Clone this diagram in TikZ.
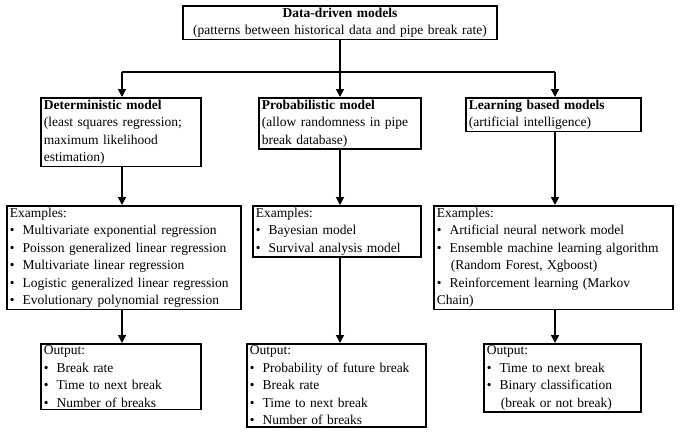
\documentclass[tikz,border=0pt]{standalone}
\usepackage{fontspec}
\setmainfont{Liberation Serif}
\usetikzlibrary{arrows.meta, positioning}
\tikzset{
  box/.style={draw, line width=1.6pt, align=left, anchor=north west, inner xsep=3pt, inner ysep=2pt,
    font=\fontsize{13.5}{17.5}\selectfont},
  arr/.style={line width=1.6pt, -{Triangle[length=8pt,width=8pt]}}
}
\newcommand{\bul}{\textbullet\hspace{8pt}}
\newcommand{\ind}{\hspace*{14pt}}
\begin{document}
\begin{tikzpicture}[x=1pt,y=-1pt]
  \useasboundingbox (0,0) rectangle (685,437);
  % top
  \node[box, align=center, anchor=north, text width=308pt] (top) at (340,5)
    {\textbf{Data-driven models}\\(patterns between historical data and pipe break rate)};
  % model boxes
  \node[box, text width=154pt] (det) at (40,97)
    {\textbf{Deterministic model}\\(least squares regression;\\maximum likelihood\\estimation)};
  \node[box, text width=156pt] (prob) at (258,97)
    {\textbf{Probabilistic model}\\(allow randomness in pipe\\break database)};
  \node[box, text width=169pt] (learn) at (465,97)
    {\textbf{Learning based models}\\(artificial intelligence)};
  % examples
  \node[box, text width=228pt] (detex) at (6,205)
    {Examples:\\\bul Multivariate exponential regression\\\bul Poisson generalized linear regression\\
     \bul Multivariate linear regression\\\bul Logistic generalized linear regression\\
     \bul Evolutionary polynomial regression};
  \node[box, text width=162pt] (probex) at (252,205)
    {Examples:\\\bul Bayesian model\\\bul Survival analysis model};
  \node[box, text width=233pt] (learnex) at (433,205)
    {Examples:\\\bul Artificial neural network model\\\bul Ensemble machine learning algorithm\\
     \ind(Random Forest, Xgboost)\\\bul Reinforcement learning (Markov Chain)};
  % outputs
  \node[box, text width=154pt] (detout) at (40,343)
    {Output:\\\bul Break rate\\\bul Time to next break\\\bul Number of breaks};
  \node[box, text width=173pt] (probout) at (246,343)
    {Output:\\\bul Probability of future break\\\bul Break rate\\\bul Time to next break\\\bul Number of breaks};
  \node[box, text width=151pt] (learnout) at (483,343)
    {Output:\\\bul Time to next break\\\bul Binary classification\\\ind(break or not break)};
  % connectors
  \coordinate (jl) at (122,72);
  \coordinate (jm) at (340,72);
  \coordinate (jr) at (555,72);
  \draw[line width=1.6pt] (top.south) -- (jm);
  \draw[line width=1.6pt] (jl) -- (jr);
  \draw[arr] (jl) -- (jl |- det.north);
  \draw[arr] (jm) -- (jm |- prob.north);
  \draw[arr] (jr) -- (jr |- learn.north);
  \draw[arr] (jl |- det.south) -- (jl |- detex.north);
  \draw[arr] (jm |- prob.south) -- (jm |- probex.north);
  \draw[arr] (jr |- learn.south) -- (jr |- learnex.north);
  \draw[arr] (jl |- detex.south) -- (jl |- detout.north);
  \draw[arr] (jm |- probex.south) -- (jm |- probout.north);
  \draw[arr] (jr |- learnex.south) -- (jr |- learnout.north);
\end{tikzpicture}
\end{document}
